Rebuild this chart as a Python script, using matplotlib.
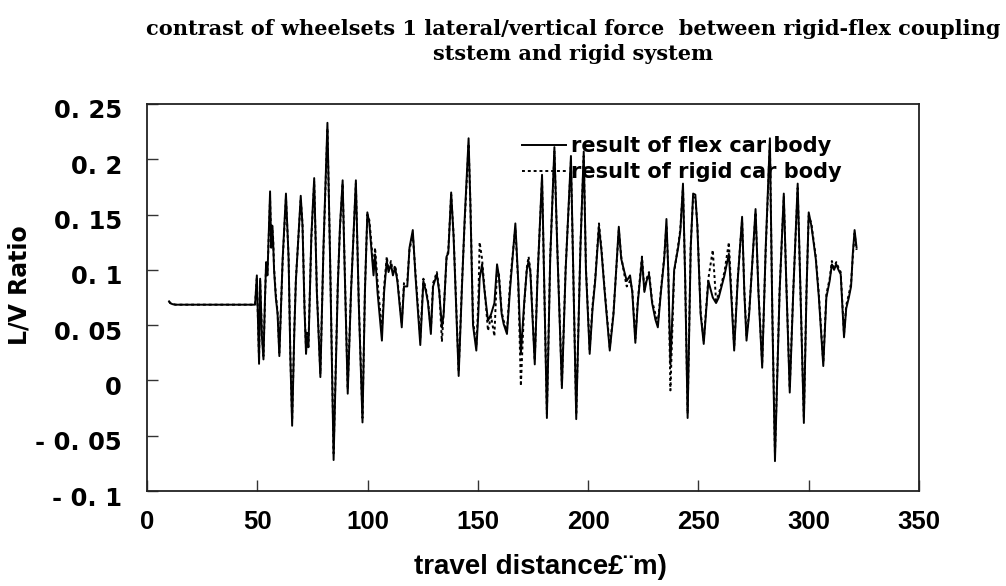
import matplotlib
matplotlib.use("Agg")
import matplotlib.pyplot as plt
from matplotlib.transforms import ScaledTranslation

distance = [10.0, 10.5, 11.5, 13.0, 49.0, 49.8, 50.8, 51.3, 52.1, 52.8, 53.5, 54.0, 54.6, 55.0, 55.8,
            56.3, 56.8, 57.2, 57.6, 58.4, 59.2, 60.0, 61.5, 63.0, 64.2, 65.0, 65.8, 66.8, 67.5, 69.7,
            70.5, 71.4, 72.1, 72.6, 73.2, 74.5, 75.8, 77.0, 78.6, 80.0, 81.8, 83.0, 84.6, 86.5, 87.5,
            88.7, 89.5, 91.0, 92.5, 94.7, 96.0, 97.7, 98.8, 99.9, 100.8, 101.5, 102.7, 103.4, 104.5,
            106.5, 107.5, 108.7, 109.5, 110.6, 111.5, 112.5, 113.5, 115.5, 116.5, 118.0, 119.0, 120.5,
            121.7, 123.9, 125.3, 126.5, 127.4, 128.7, 129.7, 131.4, 132.5, 133.7, 134.5, 135.8, 136.6,
            137.9, 139.0, 141.3, 142.8, 144.0, 145.8, 146.6, 147.8, 149.3, 150.2, 150.8, 151.9, 152.8,
            154.6, 156.0, 157.5, 158.7, 159.5, 160.8, 161.7, 163.2, 164.5, 165.5, 167.0, 168.3, 169.5,
            171.0, 172.2, 173.0, 173.8, 175.8, 177.0, 179.1, 181.3, 182.8, 184.7, 186.0, 188.1, 189.8,
            192.2, 194.6, 196.5, 198.0, 199.0, 200.7, 202.0, 203.2, 204.9, 206.0, 207.5, 209.8, 211.5,
            213.9, 215.0, 216.2, 217.5, 219.0, 220.0, 221.4, 222.5, 224.4, 225.5, 226.5, 227.6, 229.0,
            230.5, 231.6, 233.0, 234.5, 235.5, 236.3, 237.3, 239.0, 240.8, 241.8, 243.0, 244.0, 245.1,
            246.5, 247.6, 248.6, 249.5, 251.0, 252.4, 254.5, 256.5, 258.0, 259.2, 260.5, 261.8, 263.8,
            264.8, 266.2, 267.8, 269.8, 270.8, 271.8, 273.0, 275.9, 277.2, 278.9, 280.5, 282.4, 283.5,
            284.7, 286.8, 288.7, 289.8, 291.4, 293.0, 295.0, 296.5, 297.8, 299.0, 300.0, 301.2, 302.5,
            303.2, 304.6, 306.6, 308.0, 309.5, 310.5, 311.5, 312.5, 313.5, 314.5, 315.2, 316.0, 317.0,
            318.2, 319.2, 320.0, 320.8, 321.7]

flex_lv = [0.0715, 0.0700, 0.0690, 0.0685, 0.0685, 0.095, 0.015, 0.092, 0.040, 0.019, 0.075, 0.107, 0.095, 0.120, 0.171,
           0.120, 0.140, 0.125, 0.100, 0.075, 0.060, 0.022, 0.110, 0.169, 0.110, 0.020, -0.041, 0.045, 0.090, 0.167,
           0.140, 0.065, 0.024, 0.040, 0.030, 0.130, 0.183, 0.080, 0.003, 0.120, 0.233, 0.110, -0.072, 0.085, 0.140,
           0.181, 0.110, -0.012, 0.080, 0.181, 0.070, -0.038, 0.080, 0.152, 0.142, 0.125, 0.095, 0.114, 0.080,
           0.036, 0.080, 0.108, 0.098, 0.105, 0.095, 0.102, 0.090, 0.048, 0.085, 0.085, 0.120, 0.136,
           0.095, 0.032, 0.090, 0.080, 0.070, 0.042, 0.085, 0.096, 0.080, 0.048, 0.060, 0.112, 0.115,
           0.170, 0.130, 0.004, 0.085, 0.145, 0.219, 0.160, 0.050, 0.027, 0.060, 0.092, 0.105, 0.085,
           0.054, 0.060, 0.070, 0.105, 0.095, 0.060, 0.051, 0.042, 0.080, 0.105, 0.142, 0.090, 0.024,
           0.070, 0.100, 0.108, 0.098, 0.0145, 0.090, 0.186, -0.034, 0.110, 0.211, 0.120, -0.007, 0.100,
           0.203, -0.035, 0.120, 0.207, 0.100, 0.024, 0.065, 0.090, 0.139, 0.118, 0.080, 0.027, 0.060,
           0.139, 0.110, 0.100, 0.090, 0.095, 0.080, 0.034, 0.070, 0.110, 0.080, 0.090, 0.096, 0.070,
           0.055, 0.048, 0.080, 0.110, 0.146, 0.100, 0.0145, 0.100, 0.120, 0.135, 0.178, 0.090, -0.034,
           0.120, 0.169, 0.168, 0.140, 0.060, 0.033, 0.090, 0.075, 0.070, 0.075, 0.085, 0.095, 0.1145,
           0.080, 0.027, 0.090, 0.148, 0.080, 0.036, 0.060, 0.155, 0.080, 0.0115, 0.120, 0.219, 0.060,
           -0.073, 0.080, 0.169, 0.090, -0.011, 0.080, 0.178, 0.060, -0.0385, 0.080, 0.152, 0.140, 0.120,
           0.110, 0.075, 0.013, 0.075, 0.090, 0.105, 0.100, 0.105, 0.100, 0.096, 0.070, 0.039, 0.065,
           0.075, 0.085, 0.115, 0.136, 0.120]

rigid_lv = [0.0715, 0.0700, 0.0690, 0.0685, 0.0685, 0.093, 0.018, 0.090, 0.042, 0.022, 0.073, 0.105, 0.097, 0.118, 0.165,
            0.125, 0.138, 0.128, 0.102, 0.078, 0.062, 0.025, 0.108, 0.165, 0.112, 0.022, -0.036, 0.048, 0.092, 0.164,
            0.142, 0.068, 0.028, 0.045, 0.034, 0.128, 0.180, 0.082, 0.006, 0.118, 0.228, 0.112, -0.066, 0.088, 0.138,
            0.178, 0.112, -0.008, 0.082, 0.178, 0.072, -0.034, 0.082, 0.150, 0.145, 0.130, 0.100, 0.120, 0.090,
            0.045, 0.085, 0.112, 0.100, 0.108, 0.098, 0.104, 0.092, 0.052, 0.088, 0.090, 0.118, 0.132,
            0.098, 0.038, 0.092, 0.082, 0.072, 0.046, 0.088, 0.098, 0.082, 0.035, 0.062, 0.110, 0.118,
            0.168, 0.132, 0.008, 0.088, 0.142, 0.214, 0.162, 0.055, 0.030, 0.070, 0.125, 0.110, 0.088,
            0.045, 0.058, 0.040, 0.100, 0.098, 0.062, 0.054, 0.045, 0.085, 0.108, 0.138, 0.088, -0.005,
            0.068, 0.102, 0.112, 0.100, 0.018, 0.092, 0.182, -0.030, 0.112, 0.207, 0.122, -0.004, 0.102,
            0.198, -0.031, 0.122, 0.203, 0.102, 0.028, 0.068, 0.092, 0.142, 0.120, 0.082, 0.030, 0.062,
            0.136, 0.112, 0.098, 0.085, 0.090, 0.082, 0.038, 0.072, 0.112, 0.082, 0.092, 0.098, 0.072,
            0.060, 0.052, 0.082, 0.112, 0.140, 0.102, -0.009, 0.098, 0.122, 0.137, 0.175, 0.092, -0.030,
            0.122, 0.166, 0.165, 0.142, 0.062, 0.036, 0.092, 0.118, 0.072, 0.078, 0.088, 0.098, 0.125,
            0.085, 0.030, 0.092, 0.145, 0.082, 0.040, 0.062, 0.152, 0.082, 0.015, 0.118, 0.214, 0.062,
            -0.067, 0.082, 0.166, 0.092, -0.007, 0.082, 0.174, 0.062, -0.034, 0.082, 0.149, 0.142, 0.122,
            0.112, 0.078, 0.016, 0.078, 0.092, 0.108, 0.102, 0.107, 0.102, 0.098, 0.072, 0.042, 0.068,
            0.078, 0.088, 0.112, 0.133, 0.118]

x_ticks = [0, 50, 100, 150, 200, 250, 300, 350]
x_tick_labels = ["0", "50", "100", "150", "200", "250", "300", "350"]
y_ticks = [-0.1, -0.05, 0, 0.05, 0.1, 0.15, 0.2, 0.25]
y_tick_labels = ["- 0. 1", "- 0. 05", "0", "0. 05", "0. 1", "0. 15", "0. 2", "0. 25"]

title_text = "contrast of wheelsets 1 lateral/vertical force  between rigid-flex coupling\nststem and rigid system"
x_label = "travel distance£¨m)"
y_label = "L/V Ratio"
series_labels = ["result of flex car body", "result of rigid car body"]

fig = plt.figure(figsize=(10.06, 5.86), dpi=100)
ax = fig.add_axes([147/1006, 95/586, 772/1006, 387/586])

ax.plot(distance, flex_lv, color="black", lw=1.4, ls="-", label=series_labels[0])
ax.plot(distance, rigid_lv, color="black", lw=1.4, ls=(0, (1.5, 1.5)), label=series_labels[1])

ax.set_xlim(0, 350)
ax.set_ylim(-0.1, 0.25)
ax.set_xticks(x_ticks)
ax.set_xticklabels(x_tick_labels)
ax.set_yticks(y_ticks)
ax.set_yticklabels(y_tick_labels)

ax.tick_params(axis="both", direction="in", length=8, width=1, color="#333333",
               top=False, right=False)
ax.tick_params(axis="y", pad=18, labelsize=17.5)
ax.tick_params(axis="x", pad=14, labelsize=18.5)
for lab in ax.get_yticklabels():
    lab.set_fontweight("bold")
    lab.set_fontfamily("DejaVu Sans")
    lab.set_transform(lab.get_transform() + ScaledTranslation(0, -5/100, fig.dpi_scale_trans))
for lab in ax.get_xticklabels():
    lab.set_fontweight("bold")
    lab.set_fontfamily(["Liberation Sans Narrow", "Liberation Sans", "DejaVu Sans"])

for s in ax.spines.values():
    s.set_linewidth(1.3)
    s.set_color("#222222")

ax.set_ylabel(y_label, fontsize=17, fontweight="bold", family="DejaVu Sans")
ax.yaxis.set_label_coords(-115/772, (491 - 285)/387)
ax.set_xlabel(x_label, fontsize=20, fontweight="bold",
              family=["Liberation Sans Narrow", "Liberation Sans", "DejaVu Sans"])
ax.xaxis.set_label_coords((540 - 147)/772, -63/387)

fig.text(573/1006, 1 - 41.5/586, title_text, ha="center", va="center", fontsize=15,
         fontweight="bold", family="DejaVu Serif", linespacing=1.3)

leg = ax.legend(loc="upper left", bbox_to_anchor=((522 - 147)/772, 1 - (136 - 104)/387),
                frameon=False, handlelength=2.1, handletextpad=0.25,
                borderaxespad=0, borderpad=0, labelspacing=0.28,
                prop={"weight": "bold", "family": "DejaVu Sans", "size": 15})

fig.savefig("out.png", dpi=100)
